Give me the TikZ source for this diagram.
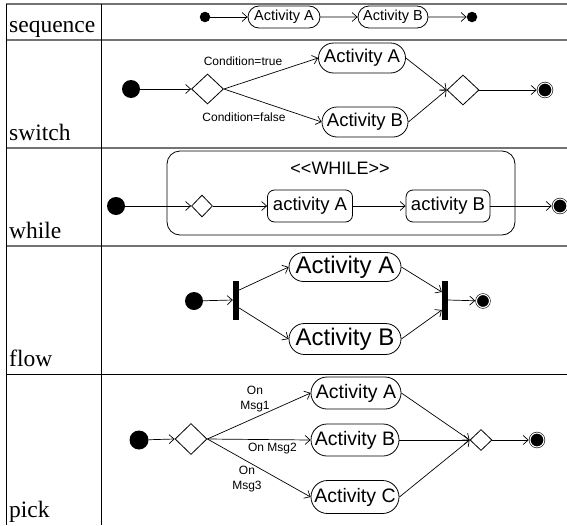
\documentclass[tikz,border=0pt]{standalone}
\usepackage{fontspec}
\setmainfont{Liberation Serif}
\setsansfont{Liberation Sans}
\usetikzlibrary{arrows.meta,shapes.geometric,shapes.misc}

\begin{document}
\begin{tikzpicture}[x=1pt,y=-1pt,
  conn/.style={line width=0.7pt, draw=black, -{Straight Barb[length=5pt,width=9pt,line width=0.7pt]}},
  rowline/.style={line width=1.2pt, draw=black!55},
  colline/.style={line width=0.7pt, draw=black},
  rowlab/.style={anchor=base west, inner sep=0pt, font=\rmfamily\fontsize{23.5}{27}\selectfont},
  startdot/.style={circle, fill=black, inner sep=0pt, minimum size=18pt},
  smalldot/.style={circle, fill=black, inner sep=0pt, minimum size=10.5pt},
  enddot/.style={circle, fill=black, draw=black, line width=0.6pt, double=white, double distance=1.1pt, inner sep=0pt, minimum size=14pt, outer sep=1.3pt},
  pill/.style={rounded rectangle, draw=black, line width=0.8pt, inner sep=0pt, font=\sffamily},
  roundbox/.style={rectangle, rounded corners=7pt, draw=black, line width=0.8pt, inner sep=0pt, font=\sffamily},
  choice/.style={diamond, draw=black, line width=0.8pt, inner sep=0pt},
  bar/.style={rectangle, fill=black, inner sep=0pt, minimum width=6pt, minimum height=39pt},
  guard/.style={font=\sffamily\fontsize{12}{15}\selectfont, inner sep=0pt, align=center},
]
\useasboundingbox (0,0) rectangle (567,525);

% ---- table ----
\draw[rowline] (6,4) -- (567,4);
\draw[rowline] (6,40) -- (567,40);
\draw[rowline] (6,148) -- (567,148);
\draw[rowline] (6,246) -- (567,246);
\draw[colline] (6,374) -- (567,374);
\draw[colline] (6,4) -- (6,525);
\draw[colline] (101,4) -- (101,525);

\node[rowlab] (lseq) at (9,32) {sequence};
\node[rowlab] (lsw) at (9,140) {switch};
\node[rowlab] (lwh) at (9,238) {while};
\node[rowlab] (lfl) at (9,366) {flow};
\node[rowlab] (lpi) at (9,517) {pick};

% ---- sequence ----
\node[smalldot] (s0) at (205,17) {};
\node[pill, minimum width=72pt, minimum height=22pt, font=\sffamily\fontsize{14.5}{17}\selectfont] (sA) at (284,17) {Activity A};
\node[pill, minimum width=70pt, minimum height=22pt, font=\sffamily\fontsize{14.5}{17}\selectfont] (sB) at (393,17) {Activity B};
\node[smalldot] (s1) at (472,17) {};
\draw[conn] (s0) -- (sA);
\draw[conn] (sA) -- (sB);
\draw[conn] (sB) -- (s1);

% ---- switch ----
\node[startdot] (w0) at (131,89) {};
\node[choice, minimum width=32pt, minimum height=30pt] (wd1) at (207.5,89) {};
\node[pill, minimum width=87pt, minimum height=30pt, font=\sffamily\fontsize{18.5}{21}\selectfont] (wA) at (362,58) {Activity A};
\node[pill, minimum width=86pt, minimum height=30pt, font=\sffamily\fontsize{18.5}{21}\selectfont] (wB) at (365,122) {Activity B};
\node[choice, minimum width=32pt, minimum height=30pt] (wd2) at (463,90) {};
\node[enddot] (w1) at (545,90) {};
\node[guard] (gt) at (243,61) {Condition=true};
\node[guard] (gf) at (244,117) {Condition=false};
\draw[conn] (w0) -- (wd1.west);
\draw[conn] (wd1.east) -- (wA.west);
\draw[conn] (wd1.east) -- (wB.west);
\draw[conn] (wA.east) -- (wd2.west);
\draw[conn] (wB.east) -- (wd2.west);
\draw[conn] (wd2.east) -- (w1);

% ---- while ----
\node[rectangle, rounded corners=13pt, draw=black, line width=0.8pt, minimum width=348pt, minimum height=84pt] (loop) at (341,193) {};
\node[font=\sffamily\fontsize{18}{21}\selectfont, inner sep=0pt] (looplab) at (340,168) {<{}<WHILE>{}>};
\node[startdot] (h0) at (116,206) {};
\node[choice, minimum width=21pt, minimum height=22pt] (hd) at (202,206) {};
\node[roundbox, minimum width=85pt, minimum height=32pt, font=\sffamily\fontsize{18.5}{21}\selectfont] (hA) at (310,206) {activity A};
\node[roundbox, minimum width=84pt, minimum height=32pt, font=\sffamily\fontsize{18.5}{21}\selectfont] (hB) at (448,206) {activity B};
\node[enddot] (h1) at (560,206) {};
\draw[conn] (h0) -- (hd.west);
\draw[conn] (hd.east) -- (hA.west);
\draw[conn] (hA.east) -- (hB.west);
\draw[conn] (hB.east) -- (h1);

% ---- flow ----
\node[startdot] (f0) at (194,301) {};
\node[bar] (fk) at (236,300) {};
\node[pill, minimum width=112pt, minimum height=29pt, font=\sffamily\fontsize{24}{28}\selectfont] (fA) at (345,267) {Activity A};
\node[pill, minimum width=112pt, minimum height=31pt, font=\sffamily\fontsize{24}{28}\selectfont] (fB) at (345,339) {Activity B};
\node[bar] (jn) at (445,300) {};
\node[enddot, minimum size=13pt] (f1) at (483,301) {};
\draw[conn] (f0) -- (fk.west);
\draw[conn] ([yshift=10pt]fk.east) -- (fA.west);
\draw[conn] ([yshift=-8pt]fk.east) -- (fB.west);
\draw[conn] (fA.east) -- ([yshift=8pt]jn.west);
\draw[conn] (fB.east) -- ([yshift=-10pt]jn.west);
\draw[conn] (jn.east) -- (f1);

% ---- pick ----
\node[startdot, minimum size=19pt] (p0) at (139,440) {};
\node[choice, minimum width=32pt, minimum height=31pt] (pd1) at (191,439) {};
\node[pill, minimum width=90pt, minimum height=32pt, font=\sffamily\fontsize{19.5}{23}\selectfont] (pA) at (356,393) {Activity A};
\node[pill, minimum width=88pt, minimum height=32pt, font=\sffamily\fontsize{19.5}{23}\selectfont] (pB) at (355,440) {Activity B};
\node[pill, minimum width=88pt, minimum height=33pt, font=\sffamily\fontsize{19.5}{23}\selectfont] (pC) at (355,497) {Activity C};
\node[choice, minimum width=22pt, minimum height=21pt] (pd2) at (481,440) {};
\node[enddot] (p1) at (537,440) {};
\node[guard] (m1) at (255,399.5) {On\\Msg1};
\node[guard] (m2) at (272.5,449) {On Msg2};
\node[guard] (m3) at (247,479) {On\\Msg3};
\draw[conn] (p0) -- (pd1.west);
\draw[conn] (pd1.east) -- (pA.west);
\draw[conn] (pd1.east) -- (pB.west);
\draw[conn] (pd1.east) -- (pC.west);
\draw[conn] (pA.east) -- (pd2.west);
\draw[conn] (pB.east) -- (pd2.west);
\draw[conn] (pC.east) -- (pd2.west);
\draw[conn] (pd2.east) -- (p1);
\end{tikzpicture}
\end{document}
